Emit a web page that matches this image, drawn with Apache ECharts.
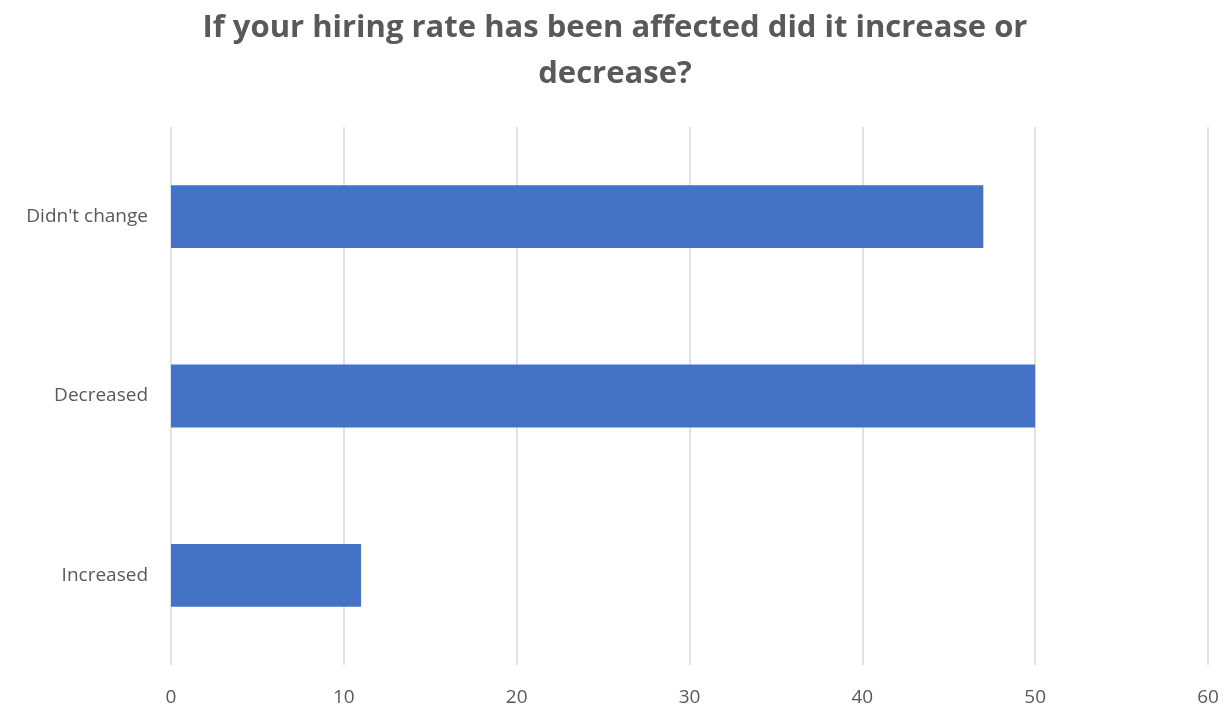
<!DOCTYPE html>
<html>
<head>
<meta charset="utf-8">
<script src="https://cdn.jsdelivr.net/npm/echarts@6/dist/echarts.min.js"></script>
<style>
  html, body { margin: 0; padding: 0; background: #fff; }
  #chart { width: 1230px; height: 713px; }
</style>
</head>
<body>
<div id="chart"></div>
<script>
const categories = ['Increased', 'Decreased', "Didn't change"]
const values = [11, 50, 47]
const titleText = 'If your hiring rate has been affected did it increase or\ndecrease?'

const chart = echarts.init(document.getElementById('chart'))
const option = {
  animation: false,
  title: {
    text: titleText,
    left: 'center',
    top: 0,
    textStyle: {
      color: '#595959',
      fontSize: 31,
      fontWeight: 'bold',
      fontFamily: 'Open Sans',
      lineHeight: 46
    }
  },
  grid: {
    left: 171,
    right: 22,
    top: 127,
    bottom: 48
  },
  xAxis: {
    type: 'value',
    min: 0,
    max: 60,
    interval: 10,
    axisLine: { show: false },
    axisTick: { show: false },
    axisLabel: {
      color: '#595959',
      fontSize: 19,
      fontFamily: 'Open Sans',
      margin: 23
    },
    splitLine: {
      lineStyle: { color: '#d9d9d9', width: 1.5 }
    }
  },
  yAxis: {
    type: 'category',
    data: categories,
    axisLine: { show: false },
    axisTick: { show: false },
    axisLabel: {
      color: '#595959',
      fontSize: 19,
      fontFamily: 'Open Sans',
      margin: 23
    }
  },
  series: [
    {
      type: 'bar',
      data: values,
      barWidth: '35%',
      itemStyle: { color: '#4472c4' }
    }
  ]
}
chart.setOption(option)
</script>
</body>
</html>
